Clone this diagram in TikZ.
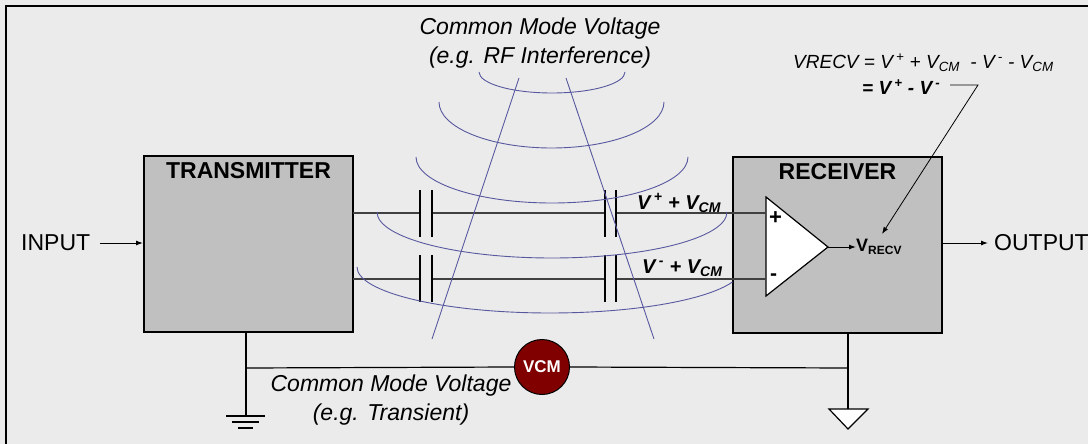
\documentclass[tikz,border=0pt]{standalone}
\usepackage{fontspec}
\setmainfont{Liberation Sans}
\usetikzlibrary{arrows.meta}
\definecolor{bgc}{HTML}{EBEBEB}
\definecolor{boxfill}{HTML}{C0C0C0}
\definecolor{wirec}{HTML}{404040}
\definecolor{wavec}{RGB}{88,88,160}
\definecolor{vcmc}{HTML}{800000}
\begin{document}
\begin{tikzpicture}[x=1pt,y=-1pt,
  box/.style={draw=black,line width=2pt,fill=boxfill,minimum width=209pt,minimum height=176pt,inner sep=0pt},
  wire/.style={draw=wirec,line width=1.6pt},
  plate/.style={draw=black,line width=1.3pt},
  wave/.style={draw=wavec,line width=0.9pt},
  blk/.style={draw=black,line width=1.2pt},
  arr/.style={-{Latex[length=7pt,width=5pt]}},
  big/.style={font=\fontsize{23}{29}\selectfont,inner sep=0pt},
  bigb/.style={font=\fontsize{23}{27}\selectfont\bfseries,inner sep=0pt},
  lab/.style={font=\fontsize{20}{24}\selectfont\bfseries\itshape,inner sep=0pt},
  eq/.style={font=\fontsize{19}{24}\selectfont\itshape,inner sep=0pt},
]
\useasboundingbox (0,0) rectangle (1088,444);
\fill[bgc] (0,0) rectangle (1088,444);
\draw[line width=2.5pt] (6,446) -- (6,6) -- (1090,6);

% boxes
\node[box] (tx) at (248.5,244) {};
\node[box] (rx) at (837.5,244.5) {};
\node[bigb] (txl) at (248.5,171) {TRANSMITTER};
\node[bigb] (rxl) at (837.5,172) {RECEIVER};

% input / output
\node[big,anchor=west] (input) at (21,243) {INPUT};
\node[big,anchor=west] (output) at (994,243) {OUTPUT};
\draw[blk,arr,line width=1pt] (input.east) ++(10,0) -- (tx.west |- input.east);
\draw[blk,arr,line width=1pt] (rx.east |- output.west) -- ++(45,0);

% op-amp
\coordinate (oa1) at (766,197);
\coordinate (oa2) at (766,296);
\coordinate (oat) at (828,247);
\draw[blk,fill=white] (oa1) -- (oat) -- (oa2) -- cycle;
\node[font=\fontsize{22}{22}\selectfont\bfseries,inner sep=0pt] (plus) at (775.5,218) {+};
\node[font=\fontsize{21}{21}\selectfont\bfseries,inner sep=0pt] (minus) at (773.5,277) {-};
\node[font=\fontsize{18}{18}\selectfont\bfseries,inner sep=0pt,anchor=west] (vrecv) at (856,247) {V\textsubscript{\fontsize{12}{12}\selectfont RECV}};
\draw[blk,arr,line width=1pt] (oat) -- (vrecv.west);

% signal lines with capacitors
\coordinate (t0) at (353,213); \coordinate (t1) at (420,213); \coordinate (t2) at (432,213);
\coordinate (t3) at (605,213); \coordinate (t4) at (616,213); \coordinate (t5) at (766,213);
\coordinate (b0) at (353,279); \coordinate (b1) at (420,279); \coordinate (b2) at (432,279);
\coordinate (b3) at (605,279); \coordinate (b4) at (616,279); \coordinate (b5) at (766,279);
\draw[wire] (t0) -- (t1) (t2) -- (t3) (t4) -- (t5);
\draw[wire] (b0) -- (b1) (b2) -- (b3) (b4) -- (b5);
\foreach \x in {420,432,605,616} {
  \draw[plate] (\x,190) -- (\x,237);
  \draw[plate] (\x,255) -- (\x,302);
}

% labels on lines
\node[lab,anchor=west] (vp) at (637,203) {V\,\textsuperscript{+} + V\textsubscript{CM}};
\node[lab,anchor=west] (vm) at (642,268) {V\,\textsuperscript{-} + V\textsubscript{CM}};

% interference waves
\draw[wave] (479,72) arc[start angle=180,end angle=0,x radius=73,y radius=21];
\draw[wave] (439,102) arc[start angle=180,end angle=0,x radius=112.5,y radius=46];
\draw[wave] (416,157) arc[start angle=180,end angle=0,x radius=136,y radius=46];
\draw[wave] (377,212) arc[start angle=180,end angle=0,x radius=175,y radius=46];
\draw[wave] (357,267) arc[start angle=180,end angle=19,x radius=193,y radius=46];
\draw[wave] (519,78) -- (432,339);
\draw[wave] (566,78) -- (654,339);

\node[big,align=center] (cmrf) at (540,43) {\itshape Common Mode Voltage\\\itshape (e.g. RF Interference)};

% equation
\node[eq,anchor=west] (eq1) at (793,63) {VRECV = V\,\textsuperscript{+} + V\textsubscript{CM}\ \ - V\,\textsuperscript{-} - V\textsubscript{CM}};
\node[eq,anchor=west,font=\fontsize{19}{24}\selectfont\bfseries\itshape] (eq2) at (862,87) {= V\,\textsuperscript{+} - V\,\textsuperscript{-}};
\coordinate (ld1) at (950,85);
\coordinate (ld2) at (978,85);
\coordinate (ld3) at (882,234);
\draw[line width=0.8pt,arr] (ld1) -- (ld2) -- (ld3);

% ground / common mode path
\coordinate (gtx) at (246,368);
\coordinate (grx) at (848,368);
\node[circle,draw=black,line width=1pt,fill=vcmc,minimum size=55pt,inner sep=0pt,text=white,font=\fontsize{17}{17}\selectfont\bfseries] (vcm) at (542,367) {VCM};
\draw[blk] (246,332) -- (246,416);
\draw[blk] (gtx) -- (vcm.west);
\draw[blk] (vcm.east) -- (grx);
\draw[blk] (848,333) -- (848,409);
\draw[blk] (226,416) -- (265,416);
\draw[blk] (232,422) -- (259,422);
\draw[blk] (238,428) -- (253,428);
\draw[blk,fill=white] (829,409) -- (868,409) -- (848,429) -- cycle;

\node[big,align=center] (cmtr) at (391,400) {\itshape Common Mode Voltage\\\itshape (e.g. Transient)};
\end{tikzpicture}
\end{document}
